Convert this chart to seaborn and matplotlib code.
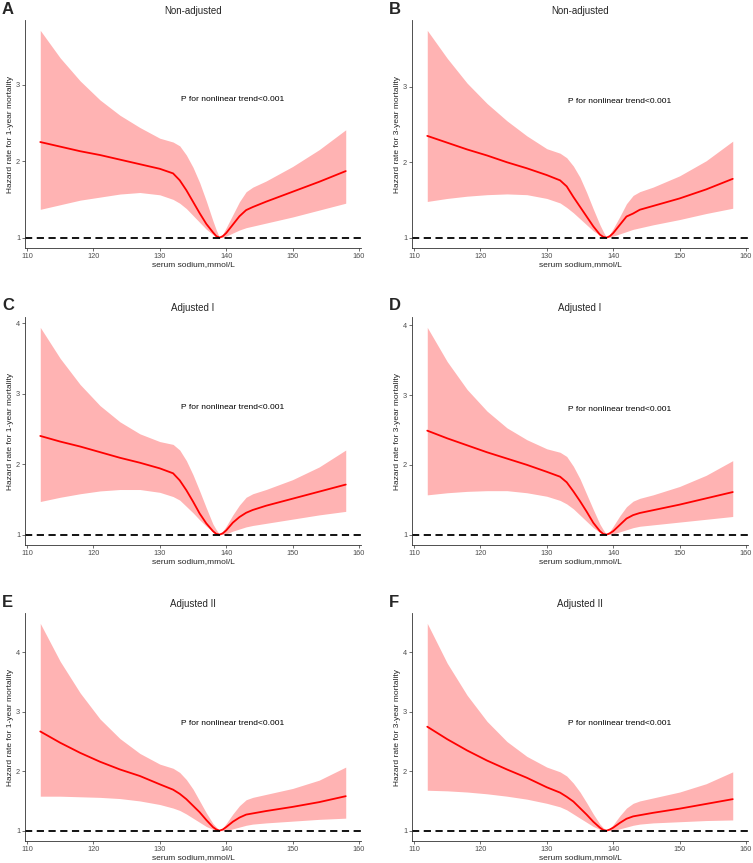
import matplotlib
matplotlib.use("Agg")
import matplotlib.pyplot as plt
import numpy as np
import pandas as pd
import seaborn as sns

# sodium grid shared by all curves
sodium = [112, 115, 118, 121, 124, 127, 130, 132, 133, 134, 135, 136, 137,
          138, 138.5, 139, 139.5, 140, 141, 142, 143, 144, 146, 150, 154, 158]

# A: non-adjusted, 1-year
hr_a = [2.25, 2.19, 2.13, 2.08, 2.02, 1.96, 1.90, 1.84, 1.75, 1.62, 1.47, 1.32, 1.18,
        1.07, 1.02, 1.00, 1.02, 1.06, 1.17, 1.28, 1.36, 1.40, 1.47, 1.60, 1.73, 1.87]
up_a = [3.71, 3.35, 3.05, 2.80, 2.60, 2.44, 2.30, 2.25, 2.20, 2.08, 1.92, 1.72, 1.48,
        1.22, 1.10, 1.00, 1.05, 1.13, 1.30, 1.47, 1.60, 1.66, 1.74, 1.93, 2.15, 2.41]
lo_a = [1.37, 1.43, 1.49, 1.53, 1.57, 1.59, 1.56, 1.50, 1.45, 1.38, 1.29, 1.20, 1.11,
        1.04, 1.01, 1.00, 1.005, 1.02, 1.06, 1.10, 1.13, 1.15, 1.19, 1.27, 1.36, 1.45]

# B: non-adjusted, 3-year
hr_b = [2.35, 2.26, 2.17, 2.09, 2.00, 1.92, 1.83, 1.76, 1.68, 1.54, 1.41, 1.28, 1.15,
        1.04, 1.01, 1.00, 1.02, 1.06, 1.17, 1.28, 1.32, 1.37, 1.42, 1.52, 1.64, 1.78]
up_b = [3.75, 3.38, 3.05, 2.78, 2.55, 2.35, 2.18, 2.12, 2.06, 1.95, 1.80, 1.60, 1.38,
        1.17, 1.08, 1.00, 1.05, 1.12, 1.28, 1.45, 1.56, 1.61, 1.67, 1.82, 2.02, 2.28]
lo_b = [1.48, 1.52, 1.55, 1.57, 1.58, 1.57, 1.52, 1.46, 1.40, 1.33, 1.25, 1.17, 1.09,
        1.03, 1.01, 1.00, 1.005, 1.02, 1.05, 1.08, 1.11, 1.13, 1.17, 1.24, 1.32, 1.39]

# C: adjusted I, 1-year
hr_c = [2.40, 2.32, 2.25, 2.17, 2.09, 2.02, 1.94, 1.87, 1.77, 1.63, 1.47, 1.30, 1.16,
        1.05, 1.01, 1.00, 1.02, 1.06, 1.17, 1.25, 1.31, 1.35, 1.41, 1.51, 1.61, 1.71]
up_c = [3.94, 3.50, 3.13, 2.83, 2.60, 2.43, 2.32, 2.28, 2.20, 2.05, 1.85, 1.62, 1.38,
        1.15, 1.07, 1.00, 1.05, 1.12, 1.28, 1.42, 1.53, 1.58, 1.64, 1.78, 1.96, 2.20]
lo_c = [1.47, 1.53, 1.58, 1.62, 1.64, 1.64, 1.60, 1.54, 1.49, 1.40, 1.31, 1.21, 1.12,
        1.04, 1.01, 1.00, 1.003, 1.01, 1.05, 1.08, 1.11, 1.13, 1.16, 1.22, 1.28, 1.33]

# D: adjusted I, 3-year
hr_d = [2.49, 2.38, 2.28, 2.18, 2.09, 2.00, 1.90, 1.83, 1.75, 1.62, 1.48, 1.33, 1.17,
        1.05, 1.01, 1.00, 1.02, 1.05, 1.14, 1.23, 1.28, 1.31, 1.35, 1.43, 1.52, 1.61]
up_d = [3.97, 3.48, 3.08, 2.77, 2.53, 2.36, 2.23, 2.18, 2.12, 1.98, 1.80, 1.58, 1.36,
        1.15, 1.07, 1.00, 1.05, 1.12, 1.27, 1.40, 1.48, 1.52, 1.57, 1.69, 1.85, 2.06]
lo_d = [1.57, 1.60, 1.62, 1.63, 1.63, 1.60, 1.55, 1.49, 1.44, 1.37, 1.28, 1.19, 1.10,
        1.03, 1.01, 1.00, 1.003, 1.01, 1.04, 1.07, 1.10, 1.12, 1.14, 1.18, 1.22, 1.26]

# E: adjusted II, 1-year
hr_e = [2.67, 2.48, 2.31, 2.16, 2.03, 1.92, 1.78, 1.69, 1.62, 1.53, 1.42, 1.31, 1.18,
        1.06, 1.02, 1.00, 1.02, 1.06, 1.15, 1.22, 1.27, 1.29, 1.33, 1.40, 1.48, 1.58]
up_e = [4.49, 3.85, 3.32, 2.88, 2.55, 2.30, 2.12, 2.05, 1.98, 1.86, 1.70, 1.50, 1.30,
        1.12, 1.06, 1.00, 1.05, 1.12, 1.28, 1.42, 1.52, 1.56, 1.61, 1.71, 1.85, 2.07]
lo_e = [1.58, 1.58, 1.57, 1.56, 1.54, 1.50, 1.44, 1.38, 1.34, 1.28, 1.21, 1.14, 1.07,
        1.02, 1.005, 1.00, 1.00, 1.00, 1.03, 1.06, 1.09, 1.11, 1.13, 1.16, 1.19, 1.21]

# F: adjusted II, 3-year
hr_f = [2.75, 2.54, 2.35, 2.18, 2.03, 1.89, 1.73, 1.64, 1.57, 1.49, 1.38, 1.27, 1.15,
        1.05, 1.01, 1.00, 1.02, 1.05, 1.13, 1.20, 1.24, 1.26, 1.30, 1.37, 1.45, 1.53]
up_f = [4.49, 3.82, 3.28, 2.84, 2.50, 2.25, 2.07, 1.99, 1.92, 1.80, 1.65, 1.47, 1.28,
        1.11, 1.05, 1.00, 1.04, 1.10, 1.25, 1.38, 1.46, 1.50, 1.55, 1.65, 1.79, 1.99]
lo_f = [1.68, 1.67, 1.65, 1.62, 1.58, 1.53, 1.46, 1.40, 1.35, 1.28, 1.21, 1.14, 1.07,
        1.02, 1.005, 1.00, 1.00, 1.00, 1.03, 1.06, 1.09, 1.11, 1.13, 1.15, 1.17, 1.18]

panel_letters = ["A", "B", "C", "D", "E", "F"]
panel_titles = ["Non-adjusted", "Non-adjusted", "Adjusted I", "Adjusted I",
                "Adjusted II", "Adjusted II"]
y_labels = ["Hazard rate for 1-year mortality", "Hazard rate for 3-year mortality"] * 3
x_ticks = [110, 120, 130, 140, 150, 160]
annot_text = "P for nonlinear trend<0.001"

series = [(hr_a, up_a, lo_a), (hr_b, up_b, lo_b), (hr_c, up_c, lo_c),
          (hr_d, up_d, lo_d), (hr_e, up_e, lo_e), (hr_f, up_f, lo_f)]

sns.set_theme(style="ticks")
plt.rcParams["font.family"] = ["Liberation Sans", "DejaVu Sans"]

W, H = 753, 863
fig = plt.figure(figsize=(W / 100, H / 100), dpi=100)

col_left = [25, 412]
row_top = [20, 317, 613]
ax_w, ax_h = 336, 228

for i, (hr, up, lo) in enumerate(series):
    r, c = divmod(i, 2)
    x0, y0 = col_left[c], row_top[r]
    ax = fig.add_axes([x0 / W, 1 - (y0 + ax_h) / H, ax_w / W, ax_h / H])

    df = pd.DataFrame({"sodium": sodium, "hr": hr, "upper": up, "lower": lo})
    ax.fill_between(df["sodium"], df["lower"], df["upper"], color="#ffb3b3", lw=0)
    sns.lineplot(data=df, x="sodium", y="hr", ax=ax, color="#ff0000", lw=1.3)
    ax.axhline(1, color="black", lw=1.3, ls=(0, (4, 2.5)))

    # ggplot-style 5% expansion around the data range
    xmin, xmax = min(sodium), max(sodium)
    xr = xmax - xmin
    ax.set_xlim(xmin - 0.05 * xr, xmax + 0.05 * xr)
    ymax = max(up)
    yr = ymax - 1
    ytop = ymax + 0.05 * yr
    ax.set_ylim(1 - 0.05 * yr, ytop)
    ax.set_yticks(range(1, int(np.floor(ytop)) + 1))
    ax.set_xticks(x_ticks)

    ax.text(141, 2.8, annot_text, ha="center", va="center", fontsize=6, color="black")
    ax.set_title(panel_titles[i], fontsize=7, pad=4)
    ax.set_xlabel("serum sodium,mmol/L", fontsize=6, labelpad=1)
    ax.set_ylabel(y_labels[i], fontsize=6, labelpad=1.5)
    ax.tick_params(labelsize=5.3, labelcolor="#4d4d4d", length=2, width=0.5,
                   color="#333333", pad=1.5)
    for side in ["left", "bottom"]:
        ax.spines[side].set_linewidth(0.6)
        ax.spines[side].set_color("#333333")
    sns.despine(ax=ax)

    fig.text((x0 - 23) / W, 1 - (y0 - 11) / H, panel_letters[i], fontsize=12,
             fontweight="bold", ha="left", va="center")

fig.savefig("out.png", dpi=100)
